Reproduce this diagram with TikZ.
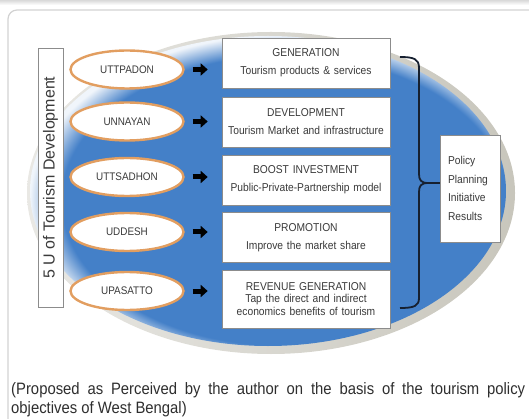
\documentclass[tikz,border=0pt]{standalone}
\usepackage{fontspec}
\setmainfont{Liberation Sans}
\newfontfamily\narrowsans[FakeStretch=0.9]{Liberation Sans}
\usetikzlibrary{shapes.geometric,arrows.meta}
\definecolor{ublue}{RGB}{68,128,200}
\definecolor{rimgray}{RGB}{200,198,188}
\definecolor{ovalorange}{RGB}{226,158,96}
\definecolor{inkgray}{RGB}{58,58,58}
\definecolor{boxgray}{RGB}{140,140,140}
\definecolor{bracenavy}{RGB}{22,32,48}
\pgfdeclareradialshading{ovalglow}{\pgfpoint{3.2bp}{-2.9bp}}{color(0bp)=(ublue); color(23.4bp)=(ublue); color(26.5bp)=(white!92!ublue); color(50bp)=(white)}
\begin{document}
\begin{tikzpicture}[x=1pt,y=-1pt,
		uoval/.style={ellipse, draw=ovalorange, line width=2.4pt, fill=white, minimum width=113pt, minimum height=38pt, inner sep=0pt, text=inkgray, font=\narrowsans\fontsize{11}{13}\selectfont},
		goalbox/.style={rectangle, draw=boxgray, line width=0.6pt, fill=white, minimum width=168pt, text width=160pt, minimum height=50pt, align=center, inner sep=0pt, text=inkgray, font=\narrowsans\fontsize{11.4}{18}\selectfont},
		fatarrow/.style={line width=5pt, -{Triangle[length=7pt,width=12pt]}, shorten <=8pt, shorten >=14pt},
		brace/.style={draw=bracenavy, line width=1.8pt}]
		\useasboundingbox (0,0) rectangle (529,419);
		\clip (0,0) rectangle (529,419);
		\shade[top color=gray!30, bottom color=white] (0,0) rectangle (529,5);
		\draw[gray!35, line width=1.2pt, rounded corners=9pt] (8,430) -- (8,10) -- (540,10);
		% the big oval
		\shade[left color=rimgray!40!white, right color=rimgray] (271,193) ellipse [x radius=244, y radius=161];
		\shade[shading=ovalglow] (268,191) ellipse [x radius=238, y radius=155];
		\node[draw=boxgray, fill=white, line width=0.6pt, minimum width=259pt, minimum height=25pt, rotate=90, text=inkgray, font=\fontsize{16}{18}\selectfont] (fiveu) at (50.5,177.5) {5 U of Tourism Development};
		\foreach \i/\uname/\uy/\by/\goal in {1/UTTPADON/69.5/63/{GENERATION\\Tourism products \& services},
			2/UNNAYAN/121.5/122/{DEVELOPMENT\\Tourism Market and infrastructure},
			3/UTTSADHON/177/180/{BOOST INVESTMENT\\Public-Private-Partnership model},
			4/UDDESH/232/237.5/{PROMOTION\\Improve the market share}} {
			\node[uoval] (u-\i) at (127,\uy) {\uname};
			\node[goalbox] (g-\i) at (306,\by) {\goal};
			\draw[fatarrow] (u-\i) -- (u-\i -| g-\i.west);
		}
		\node[uoval] (u-5) at (127,291) {UPASATTO};
		\node[goalbox, minimum height=58pt, font=\narrowsans\fontsize{11.4}{12.5}\selectfont] (g-5) at (306,299) {REVENUE GENERATION\\Tap the direct and indirect\\economics benefits of tourism};
		\draw[fatarrow] (u-5) -- (u-5 -| g-5.west);
		\node[draw=boxgray, fill=white, line width=0.6pt, minimum width=60pt, minimum height=107pt, text width=44pt, align=left, inner sep=0pt, text=inkgray, font=\narrowsans\fontsize{11.4}{18.5}\selectfont] (policy) at (470,188.5) {Policy\\Planning\\Initiative\\Results};
		% brace
		\coordinate (tip) at (428,183);
		\draw[brace] (400,57) .. controls (414,57) and (419,59) .. (419,68) -- (419,174) .. controls (419,180) and (421,183) .. (tip);
		\draw[brace] (tip) .. controls (421,183) and (419,186) .. (419,192) -- (419,298) .. controls (419,306) and (414,308) .. (400,308);
		\draw[brace] (tip) -- (tip -| policy.west);
		\node[anchor=north west, text width=514pt, align=justify, inner sep=0pt, text=inkgray!80!black, font=\narrowsans\fontsize{16.5}{19.5}\selectfont] (caption) at (11,382) {(Proposed as Perceived by the author on the basis of the tourism policy\linebreak objectives of West Bengal)};
	\end{tikzpicture}
\end{document}
